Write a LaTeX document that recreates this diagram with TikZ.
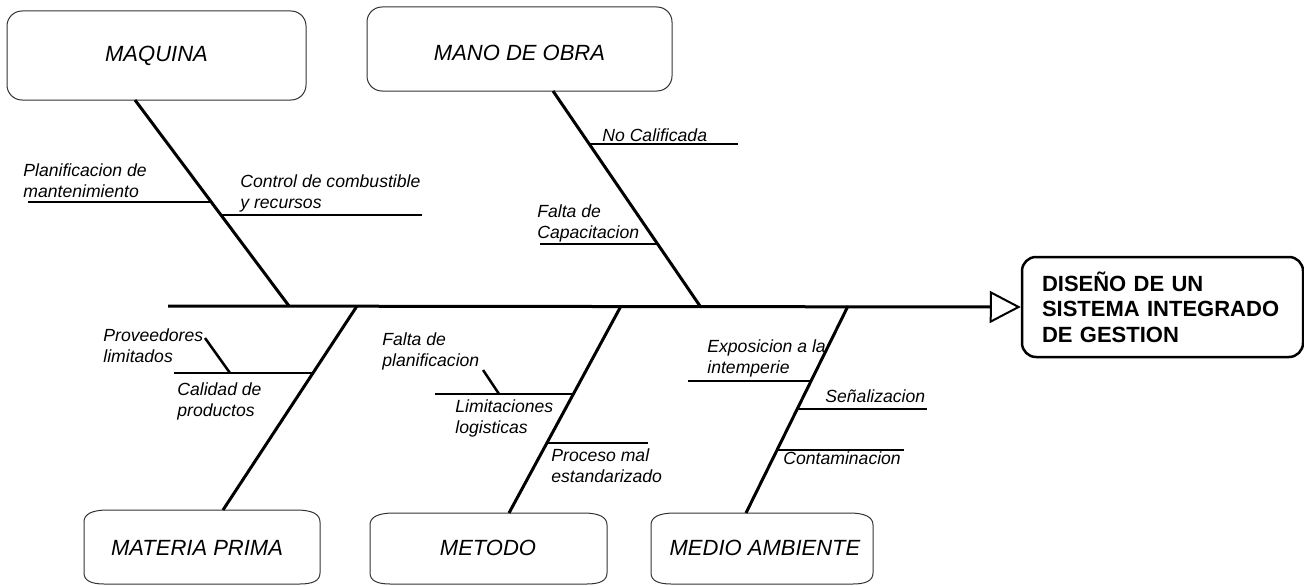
\documentclass[tikz,border=0pt]{standalone}
\usepackage{fontspec}
\setmainfont{Liberation Sans}
\usetikzlibrary{arrows.meta}

% outline of the lower cause boxes: left, top, right, bottom
\newcommand{\tapebox}[4]{%
	\draw[tape] (#1,#2+12) .. controls (#1,#2+4) and (#1+8,#2) .. (#1+24,#2) -- (#3-24,#2)
		.. controls (#3-8,#2) and (#3,#2+4) .. (#3,#2+12) -- (#3,#4-11)
		.. controls (#3,#4-3) and (#3-8,#4) .. (#3-20,#4) -- (#1+20,#4)
		.. controls (#1+8,#4) and (#1,#4-3) .. (#1,#4-11) -- cycle;}

\begin{document}
\begin{tikzpicture}[x=1pt, y=-1pt, thick,
	cause/.style = {draw=black!80, line width=1pt, rounded corners=15pt, text depth=0pt, font=\fontsize{22}{26}\selectfont\itshape},
	lowcause/.style = {font=\fontsize{22}{26}\selectfont\itshape},
	tape/.style = {draw=black!80, line width=1pt},
	effect/.style = {draw, line width=2.5pt, rounded corners=14pt, minimum width=281pt, minimum height=100pt,
		text width=241pt, align=left, font=\fontsize{22}{25.5}\selectfont\bfseries},
	lbl/.style = {inner sep=0pt, align=left, font=\fontsize{17.6}{20.5}\selectfont\itshape},
	bone/.style = {line width=3pt},
	twig/.style = {line width=2.5pt}]
	\useasboundingbox (0,0) rectangle (1304,586);

	% cause boxes
	\node [cause, minimum width=299pt, minimum height=89pt, text height=13pt] (maq) at (156.5,55.5) {MAQUINA};
	\node [cause, minimum width=305pt, minimum height=84pt, text height=22pt] (mano) at (519.5,49) {MANO DE OBRA};
	\tapebox{84}{510}{320}{584}
	\tapebox{370}{513}{607}{584}
	\tapebox{651}{513}{873}{584}
	\node [lowcause] (mat) at (197,548) {MATERIA PRIMA};
	\node [lowcause] (met) at (488,548) {METODO};
	\node [lowcause] (med) at (765,548) {MEDIO AMBIENTE};
	\node [effect] (efecto) at (1162.5,307) {DISEÑO DE UN\\SISTEMA INTEGRADO\\DE GESTION};

	% spine
	\coordinate (cola) at (168,306);
	\draw [bone, -{Triangle[open, length=31pt, width=32pt, line width=2pt]}] (cola) -- (efecto.west);

	% bones
	\coordinate (maqT) at (135,100);   \coordinate (maqS) at (289,306);
	\coordinate (manoT) at (553,91);   \coordinate (manoS) at (700,306);
	\coordinate (matT) at (223,510);   \coordinate (matS) at (357,306);
	\coordinate (metT) at (509,513);   \coordinate (metS) at (621,306);
	\coordinate (medT) at (746,513);   \coordinate (medS) at (848,306);
	\draw [bone] (maqT) -- (maqS);
	\draw [bone] (manoT) -- (manoS);
	\draw [bone] (matS) -- (matT);
	\draw [bone] (metS) -- (metT);
	\draw [bone] (medS) -- (medT);

	% MAQUINA
	\coordinate (m1a) at (28,202);  \coordinate (m1b) at (210,202);
	\coordinate (m2a) at (222,215); \coordinate (m2b) at (422,215);
	\draw [twig] (m1a) -- (m1b);
	\draw [twig] (m2a) -- (m2b);
	\node [lbl, anchor=base west] (planif) at (23,197) {Planificacion de\\mantenimiento};
	\node [lbl, anchor=base west] (control) at (240,208) {Control de combustible\\y recursos};

	% MANO DE OBRA
	\coordinate (o1a) at (590,144); \coordinate (o1b) at (738,144);
	\coordinate (o2a) at (540,244); \coordinate (o2b) at (658,244);
	\draw [twig] (o1a) -- (o1b);
	\draw [twig] (o2a) -- (o2b);
	\node [lbl, anchor=base west] (nocal) at (602,141) {No Calificada};
	\node [lbl, anchor=base west] (capac) at (537,238) {Falta de\\Capacitacion};

	% MATERIA PRIMA
	\coordinate (p1a) at (174,373); \coordinate (p1b) at (313,373);
	\coordinate (p2a) at (205,338); \coordinate (p2b) at (230,373);
	\draw [twig] (p1a) -- (p1b);
	\draw [twig] (p2a) -- (p2b);
	\node [lbl, anchor=base west] (prov) at (103,362) {Proveedores\\limitados};
	\node [lbl, anchor=base west] (calid) at (177,416) {Calidad de\\productos};

	% METODO
	\coordinate (t1a) at (435,394); \coordinate (t1b) at (573,394);
	\coordinate (t2a) at (483,370); \coordinate (t2b) at (499,394);
	\coordinate (t3a) at (547,443); \coordinate (t3b) at (648,443);
	\draw [twig] (t1a) -- (t1b);
	\draw [twig] (t2a) -- (t2b);
	\draw [twig] (t3a) -- (t3b);
	\node [lbl, anchor=base west] (fplan) at (382,366) {Falta de\\planificacion};
	\node [lbl, anchor=base west] (limit) at (455,433) {Limitaciones\\logisticas};
	\node [lbl, anchor=base west] (proc) at (551,482) {Proceso mal\\estandarizado};

	% MEDIO AMBIENTE
	\coordinate (a1a) at (688,381); \coordinate (a1b) at (811,381);
	\coordinate (a2a) at (797,409); \coordinate (a2b) at (927,409);
	\coordinate (a3a) at (777,450); \coordinate (a3b) at (904,450);
	\draw [twig] (a1a) -- (a1b);
	\draw [twig] (a2a) -- (a2b);
	\draw [twig] (a3a) -- (a3b);
	\node [lbl, anchor=base west] (expo) at (707,373) {Exposicion a la\\intemperie};
	\node [lbl, anchor=base west] (senal) at (825,402) {Señalizacion};
	\node [lbl, anchor=base west] (conta) at (783,464) {Contaminacion};
\end{tikzpicture}
\end{document}
